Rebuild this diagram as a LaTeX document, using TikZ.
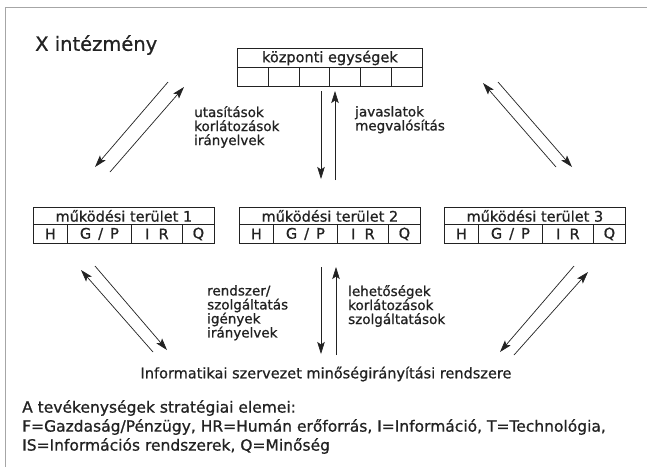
\documentclass[tikz,border=0pt]{standalone}
\usepackage{fontspec}
\setmainfont{DejaVu Sans}[FakeBold=0.8]
\usetikzlibrary{arrows.meta}
\definecolor{ink}{HTML}{222222}
\definecolor{framegray}{HTML}{A6A6A6}
\newcommand\areabox[3]{%
  \node[cellbox, minimum width=181pt, minimum height=17pt] (#2) at (#1,207) {működési terület #3};
  \node[cellbox, minimum width=34pt] (#2h) at (#1,224) {H};
  \node[cellbox, minimum width=64pt] (#2g) at (#1+34,224) {G\,\ /\ \,P};
  \node[cellbox, minimum width=51pt] (#2i) at (#1+98,224) {I\ \ R};
  \node[cellbox, minimum width=32pt] (#2q) at (#1+149,224) {Q};
}
\begin{document}
\begin{tikzpicture}[x=1pt,y=-1pt,
  cellbox/.style={draw=ink, line width=0.8pt, minimum height=19pt, inner sep=0pt,
    anchor=north west, text=ink, font=\fontsize{14.5}{16}\selectfont},
  arr/.style={-{Stealth[length=12pt,width=7.5pt,inset=2.5pt]}, draw=ink, line width=0.7pt},
  lbl/.style={align=left, anchor=north west, inner sep=0pt, text=ink,
    font=\fontsize{13.5}{14}\selectfont}]
\useasboundingbox (0,0) rectangle (647,467);
\fill[white] (0,0) rectangle (647,467);
\draw[framegray, line width=1pt] (5,467) -- (5,7) -- (647,7);

\node[anchor=west, inner sep=0pt, text=ink, font=\fontsize{19.5}{22}\selectfont] (title) at (35,45) {X intézmény};

% top box
\node[cellbox, minimum width=185pt, minimum height=19pt] (kh) at (237,48) {központi egységek};
\foreach \i in {0,...,5}
  \node[cellbox, minimum width=30.83pt, minimum height=19pt] (kc\i) at (237+\i*30.83,67) {};

% area boxes
\areabox{33}{mt1}{1}
\areabox{239}{mt2}{2}
\areabox{444}{mt3}{3}

% arrow coordinates
\coordinate (ulAs) at (168,82);  \coordinate (ulAe) at (95,167);
\coordinate (ulBs) at (110,172); \coordinate (ulBe) at (184,87);
\coordinate (urAs) at (556,167); \coordinate (urAe) at (483,83);
\coordinate (urBs) at (498,82);  \coordinate (urBe) at (572,167);
\coordinate (ucAs) at (321,91);  \coordinate (ucAe) at (321,179);
\coordinate (ucBs) at (335,180); \coordinate (ucBe) at (335,91);
\coordinate (llAs) at (153,352); \coordinate (llAe) at (81,270);
\coordinate (llBs) at (95,266);  \coordinate (llBe) at (167,350);
\coordinate (lcAs) at (321,267); \coordinate (lcAe) at (321,354);
\coordinate (lcBs) at (336,355); \coordinate (lcBe) at (336,267);
\coordinate (lrAs) at (574,266); \coordinate (lrAe) at (500,352);
\coordinate (lrBs) at (514,355); \coordinate (lrBe) at (588,272);

\foreach \a in {ulA,ulB,urA,urB,ucA,ucB,llA,llB,lcA,lcB,lrA,lrB}
  \draw[arr] (\a s) -- (\a e);

% labels
\node[lbl] (l1) at (194,106) {utasítások\\korlátozások\\irányelvek};
\node[lbl] (l2) at (355,106) {javaslatok\\megvalósítás};
\node[lbl] (l3) at (207,285) {rendszer/\\szolgáltatás\\igények\\irányelvek};
\node[lbl] (l4) at (348,285) {lehetőségek\\korlátozások\\szolgáltatások};

\node[inner sep=0pt, text=ink, font=\fontsize{14.5}{16}\selectfont] (isr) at (326,374)
  {Informatikai szervezet minőségirányítási rendszere};

\node[lbl, font=\fontsize{15.5}{19}\selectfont] (legend) at (22,400)
  {A tevékenységek stratégiai elemei:\\
   F=Gazdaság/Pénzügy, HR=Humán erőforrás, I=Információ, T=Technológia,\\
   IS=Információs rendszerek, Q=Minőség};
\end{tikzpicture}
\end{document}
